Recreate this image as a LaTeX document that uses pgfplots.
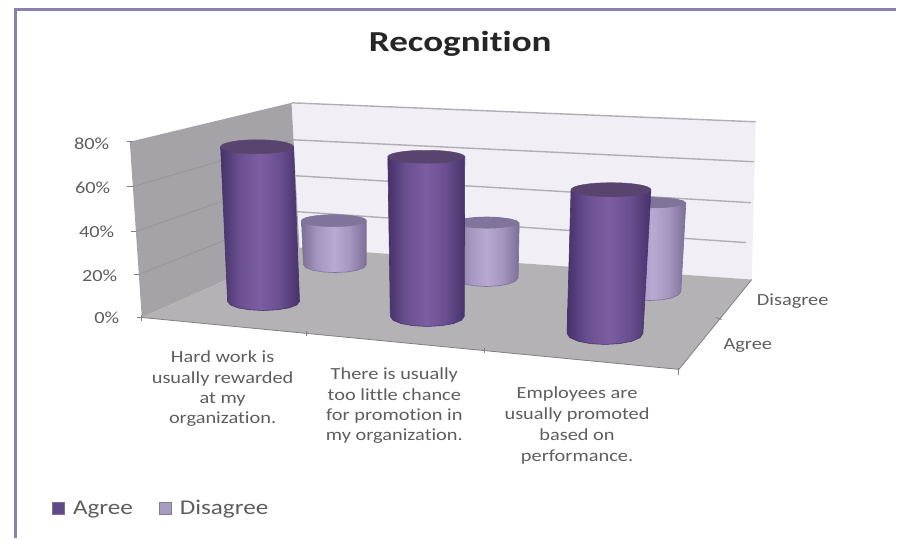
\documentclass[border=0pt]{standalone}
\usepackage{pgfplots}
\pgfplotsset{compat=1.18}
\usepackage{fontspec}
\setmainfont[FakeStretch=1.2,Ligatures=NoCommon]{Carlito}
\newfontfamily\titlef[FakeStretch=1.28,Ligatures=NoCommon]{Carlito}
\definecolor{txt}{HTML}{5E5E5E}
\definecolor{frame}{HTML}{8B7FAE}
\definecolor{backwall}{HTML}{F1EFF5}
\definecolor{leftwall}{HTML}{A5A3A8}
\definecolor{floorc}{HTML}{B4B2B5}
\definecolor{gridc}{HTML}{B0AEB4}
\definecolor{sidegrid}{HTML}{97959A}
\definecolor{agreetop}{HTML}{58446F}
\definecolor{distop}{HTML}{80749A}
\definecolor{agreekey}{HTML}{5F4A85}
\definecolor{diskey}{HTML}{A99CC4}
\definecolor{a1}{HTML}{46326B}\definecolor{a2}{HTML}{6A5090}\definecolor{a3}{HTML}{7C5EA2}
\definecolor{d1}{HTML}{7D6E97}\definecolor{d2}{HTML}{A596C0}\definecolor{d3}{HTML}{B8A9D2}
\pgfdeclarehorizontalshading{acyl}{100bp}{
  color(0bp)=(a1);color(25bp)=(a1);color(37bp)=(a2);color(50bp)=(a3);color(62bp)=(a2);color(75bp)=(a1);color(100bp)=(a1)}
\pgfdeclarehorizontalshading{dcyl}{100bp}{
  color(0bp)=(d1);color(25bp)=(d1);color(37bp)=(d2);color(50bp)=(d3);color(62bp)=(d2);color(75bp)=(d1);color(100bp)=(d1)}
\begin{document}
\begin{tikzpicture}
\begin{axis}[
  scale only axis, width=897pt, height=539pt,
  xmin=0, xmax=897, ymin=0, ymax=539, y dir=reverse,
  axis lines=none, clip=false,
  legend style={at={(axis cs:49,509)},anchor=west,draw=none,fill=none,
    legend columns=2,font=\fontsize{21}{23}\selectfont\color{txt},
    /tikz/every odd column/.append style={column sep=7pt},
    /tikz/every even column/.append style={column sep=24pt}},
  legend cell align=left,
]
% page extent
\addplot[forget plot,draw=none,fill=white] coordinates {(0,0)(897,0)(897,539)(0,539)} --cycle;
% frame
\addplot[forget plot,frame,line width=3pt] coordinates {(16,539)(16,10)(897,10)};
% walls and floor
\addplot[forget plot,draw=none,fill=backwall] coordinates {(292,103)(757,122)(753,280)(300,248)} --cycle;
\addplot[forget plot,draw=none,fill=leftwall] coordinates {(130,142)(292,103)(300,248)(142,318)} --cycle;
\addplot[forget plot,draw=none,fill=floorc] coordinates {(142,318)(300,248)(753,280)(680,370)} --cycle;
% grid lines
\addplot[forget plot,gridc,line width=1.4pt] coordinates {(292,103)(757,122)};
\addplot[forget plot,gridc,line width=1.4pt] coordinates {(293,140)(755,162)};
\addplot[forget plot,gridc,line width=1.4pt] coordinates {(295,176)(752,203)};
\addplot[forget plot,gridc,line width=1.4pt] coordinates {(297,212)(747,243)};
\addplot[forget plot,sidegrid,line width=.8pt] coordinates {(133,187)(293,140)};
\addplot[forget plot,sidegrid,line width=.8pt] coordinates {(136,232)(295,176)};
\addplot[forget plot,sidegrid,line width=.8pt] coordinates {(139,275)(297,212)};
% axis edges and ticks
\addplot[forget plot,gray,line width=.8pt] coordinates {(142,318)(680,370)};
\addplot[forget plot,gray,line width=.8pt] coordinates {(680,370)(753,280)};
\addplot[forget plot,gray,line width=.8pt] coordinates {(142,322)(142,316)};
\addplot[forget plot,gray,line width=.8pt] coordinates {(307,337)(307,332)};
\addplot[forget plot,gray,line width=.8pt] coordinates {(485,354)(485,349)};
\addplot[forget plot,gray,line width=.8pt] coordinates {(680,376)(680,369)};
\addplot[forget plot,gray,line width=.8pt] coordinates {(723,320)(717,318)};
\addplot[forget plot,gray,line width=.8pt] coordinates {(127,142)(132,142)};
\addplot[forget plot,gray,line width=.8pt] coordinates {(127,187)(133,187)};
\addplot[forget plot,gray,line width=.8pt] coordinates {(131,232)(136,232)};
\addplot[forget plot,gray,line width=.8pt] coordinates {(134,275)(139,275)};
\addplot[forget plot,gray,line width=.8pt] coordinates {(137,318)(142,318)};
% Disagree 1
\addplot[forget plot,draw=d1,line width=.6pt,shade,shading=dcyl] coordinates {(302,221)(367,221)(367,265)(364.6,268.1)(357.8,270.7)(347.6,272.4)(335.5,273)(323.4,272.4)(313.2,270.7)(306.4,268.1)(304,265)} --cycle;
\addplot[forget plot,only marks,mark=*,mark size=1,mark options={xscale=32.5,yscale=6,draw=distop,fill=distop}] coordinates {(334.5,221)};
% Agree 1
\addplot[forget plot,draw=a1,line width=.6pt,shade,shading=acyl] coordinates {(221,147)(294,147)(300,302)(297.3,305.4)(289.5,308.4)(277.8,310.3)(264,311)(250.2,310.3)(238.5,308.4)(230.7,305.4)(228,302)} --cycle;
\addplot[forget plot,only marks,mark=*,mark size=1,mark options={xscale=36.5,yscale=7,draw=agreetop,fill=agreetop}] coordinates {(257.5,147)};
% Disagree 2
\addplot[forget plot,draw=d1,line width=.6pt,shade,shading=dcyl] coordinates {(455,223)(520,223)(519,278)(516.6,281.4)(509.6,284.4)(499.2,286.3)(487,287)(474.8,286.3)(464.4,284.4)(457.4,281.4)(455,278)} --cycle;
\addplot[forget plot,draw=none,fill=distop] coordinates {(520,223)(517.5,225.3)(510.5,227.2)(499.9,228.5)(487.5,229)(475.1,228.5)(464.5,227.2)(457.5,225.3)(455,223)(457.5,220.7)(464.5,218.8)(475.1,217.5)(487.5,217)(499.9,217.5)(510.5,218.8)(517.5,220.7)} --cycle;
% Agree 2
\addplot[forget plot,draw=a1,line width=.6pt,shade,shading=acyl] coordinates {(388.5,157)(465.5,157)(465,317)(462.2,320.8)(454.2,324.1)(442.2,326.2)(428,327)(413.8,326.2)(401.8,324.1)(393.8,320.8)(391,317)} --cycle;
\addplot[forget plot,only marks,mark=*,mark size=1,mark options={xscale=38.5,yscale=6.5,draw=agreetop,fill=agreetop}] coordinates {(427,157)};
% Disagree 3
\addplot[forget plot,draw=d1,line width=.6pt,shade,shading=dcyl] coordinates {(621,203)(687,203)(682,292)(679.6,295.4)(672.9,298.4)(662.9,300.3)(651,301)(639.1,300.3)(629.1,298.4)(622.1,295.4)(620,292)} --cycle;
\addplot[forget plot,draw=none,fill=distop] coordinates {(687,203)(684.5,205.1)(677.3,206.9)(666.6,208.1)(654,208.5)(641.4,208.1)(630.7,206.9)(623.5,205.1)(621,203)(623.5,200.9)(630.7,199.1)(641.4,197.9)(654,197.5)(666.6,197.9)(677.3,199.1)(684.5,200.9)} --cycle;
% Agree 3
\addplot[forget plot,draw=a1,line width=.6pt,shade,shading=acyl] coordinates {(572,190)(652,190)(644,334)(641.1,338.2)(632.9,341.8)(620.5,344.2)(606,345)(591.5,344.2)(579.1,341.8)(570.9,338.2)(568,334)} --cycle;
\addplot[forget plot,only marks,mark=*,mark size=1,mark options={xscale=40,yscale=7,draw=agreetop,fill=agreetop}] coordinates {(612,190)};
% legend
\addlegendimage{only marks,mark=square*,mark size=6pt,mark options={fill=agreekey,draw=agreekey!80!white}}
\addlegendentry{Agree}
\addlegendimage{only marks,mark=square*,mark size=6pt,mark options={fill=diskey,draw=gray}}
\addlegendentry{Disagree}
% text
\node[anchor=base,font=\titlef\fontsize{29}{32}\selectfont\bfseries,text=black!85] at (axis cs:461,52) {Recognition};
\node[anchor=east,font=\fontsize{17}{20}\selectfont,text=txt] at (axis cs:113,144) {80\%};
\node[anchor=east,font=\fontsize{17}{20}\selectfont,text=txt] at (axis cs:114,188) {60\%};
\node[anchor=east,font=\fontsize{17}{20}\selectfont,text=txt] at (axis cs:118,232) {40\%};
\node[anchor=east,font=\fontsize{17}{20}\selectfont,text=txt] at (axis cs:121,276) {20\%};
\node[anchor=east,font=\fontsize{17}{20}\selectfont,text=txt] at (axis cs:123,318) {0\%};
\node[align=center,font=\fontsize{17}{20.3}\selectfont,text=txt] at (axis cs:223,389.5) {Hard work is\\usually rewarded\\at my\\organization.};
\node[align=center,font=\fontsize{17}{20.3}\selectfont,text=txt] at (axis cs:395,406.5) {There is usually\\too little chance\\for promotion in\\my organization.};
\node[align=center,font=\fontsize{17}{21}\selectfont,text=txt] at (axis cs:578,426) {Employees are\\usually promoted\\based on\\performance.};
\node[font=\fontsize{17}{20}\selectfont,text=txt] at (axis cs:794,302) {Disagree};
\node[font=\fontsize{17}{20}\selectfont,text=txt] at (axis cs:749,346) {Agree};
\end{axis}
\end{tikzpicture}
\end{document}
